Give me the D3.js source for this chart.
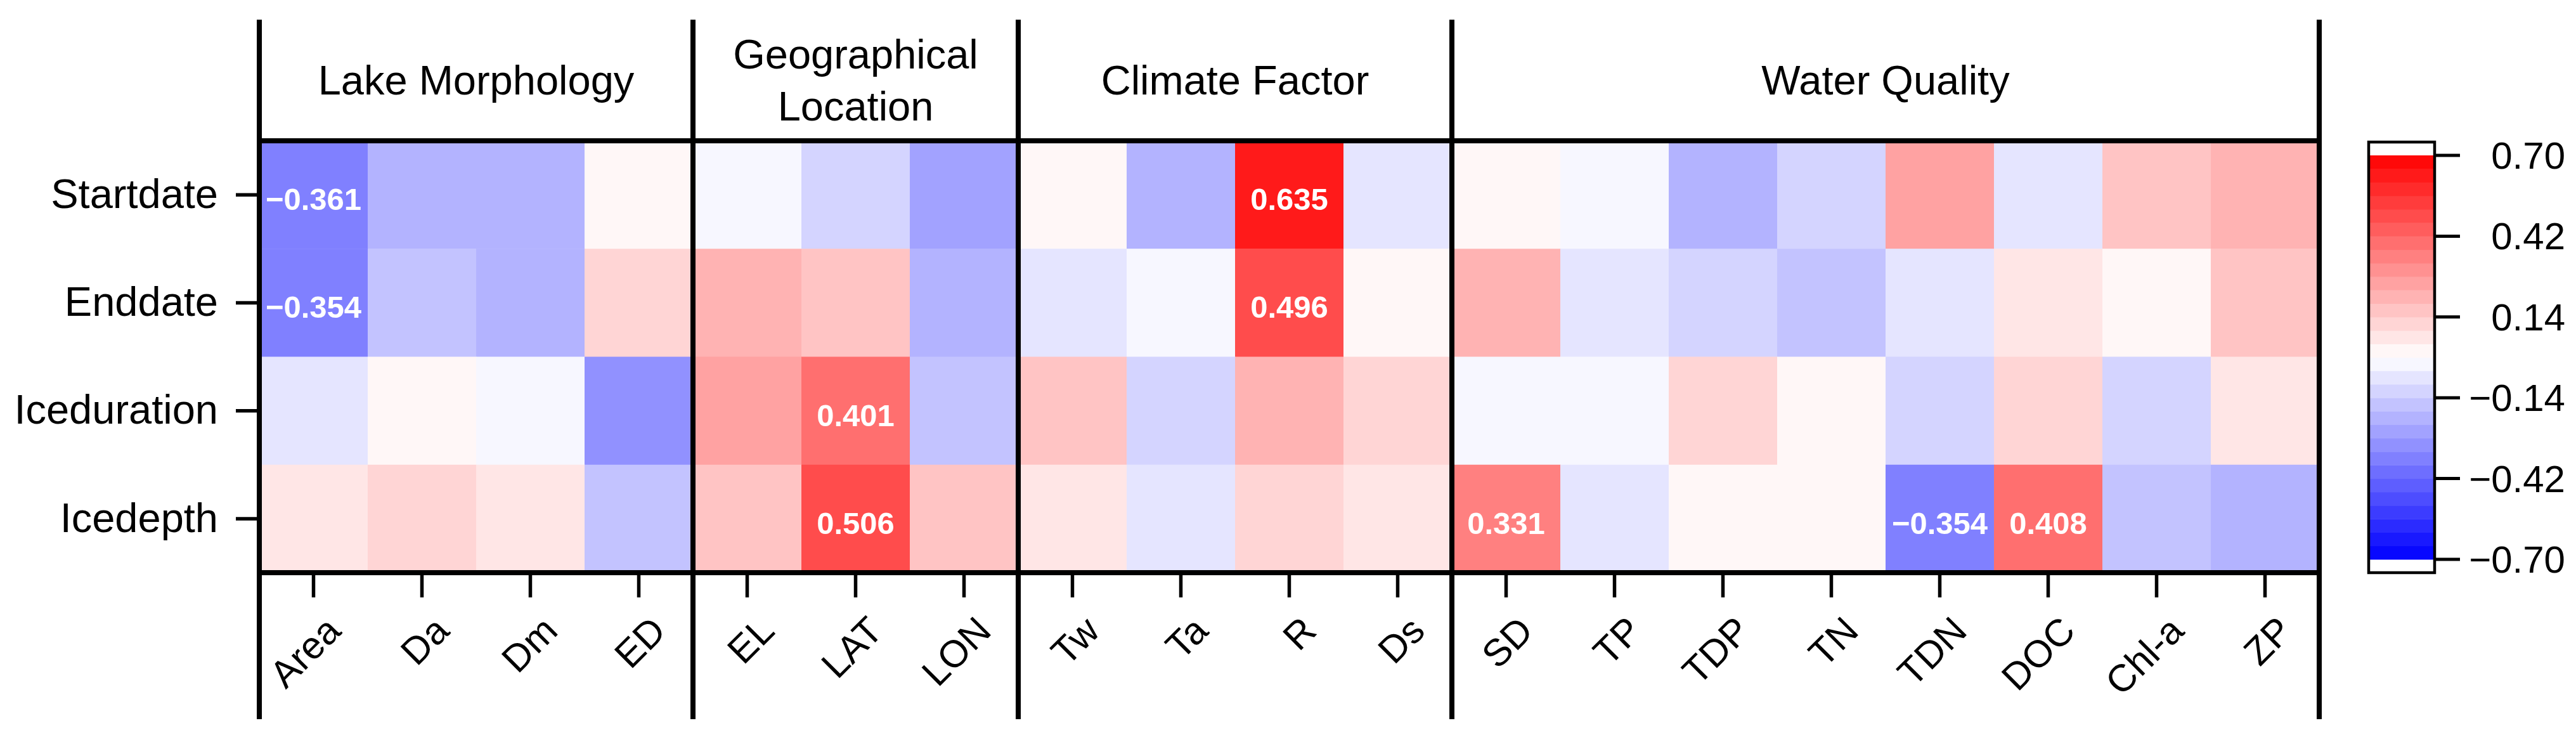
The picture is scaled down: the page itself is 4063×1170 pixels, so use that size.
<!DOCTYPE html>
<meta charset="utf-8">
<html>

<head>
    <!-- Load d3.js -->
    <script src="https://d3js.org/d3.v7.min.js"></script>

    <style>
        body {
            margin: 0;
            background-color: #ffffff;
        }

        text {
            font-family: "Liberation Sans", Arial, sans-serif;
            fill: #000000;
        }
    </style>
</head>

<body>
    <div id="heatmap"></div>

    <script>
        // row (response) names
        var rows = ["Startdate", "Enddate", "Iceduration", "Icedepth"];

        // column groups
        var lakeMorphology = ["Area", "Da", "Dm", "ED"];
        var geoLocation = ["EL", "LAT", "LON"];
        var climateFactor = ["Tw", "Ta", "R", "Ds"];
        var waterQuality = ["SD", "TP", "TDP", "TN", "TDN", "DOC", "Chl-a", "ZP"];
        var groupTitles = [["Lake Morphology"], ["Geographical", "Location"], ["Climate Factor"], ["Water Quality"]];

        // correlation values, one array per row, in column order
        var startdate = [-0.361, -0.21, -0.21, 0.02, -0.02, -0.11, -0.26, 0.02, -0.21, 0.635, -0.07, 0.02, -0.02, -0.21, -0.11, 0.25, -0.07, 0.16, 0.21];
        var enddate = [-0.354, -0.16, -0.21, 0.12, 0.21, 0.16, -0.21, -0.07, -0.02, 0.496, 0.02, 0.21, -0.07, -0.11, -0.16, -0.07, 0.07, 0.02, 0.16];
        var iceduration = [-0.07, 0.02, -0.02, -0.30, 0.25, 0.401, -0.16, 0.16, -0.11, 0.21, 0.12, -0.02, -0.02, 0.12, 0.02, -0.11, 0.12, -0.11, 0.07];
        var icedepth = [0.07, 0.12, 0.07, -0.16, 0.16, 0.506, 0.17, 0.07, -0.07, 0.12, 0.07, 0.331, -0.07, 0.02, 0.02, -0.354, 0.408, -0.16, -0.21];

        // colour bar ticks
        var legendTicks = [0.70, 0.42, 0.14, -0.14, -0.42, -0.70];

        var groups = [lakeMorphology, geoLocation, climateFactor, waterQuality];
        var columns = [].concat(lakeMorphology, geoLocation, climateFactor, waterQuality);
        var rowValues = [startdate, enddate, iceduration, icedepth];

        var cells = [];
        rows.forEach(function (r, i) {
            columns.forEach(function (c, j) {
                cells.push({ row: r, col: c, value: rowValues[i][j] });
            });
        });

        // page size and plot area
        var W = 4063, H = 1170;
        var plot = { left: 409, right: 3658, top: 222, bottom: 903 };
        var lineTop = 31, lineBottom = 1134;

        var svg = d3.select("#heatmap")
            .append("svg")
            .attr("width", W)
            .attr("height", H);

        var x = d3.scaleBand().domain(columns).range([plot.left, plot.right]);
        var y = d3.scaleBand().domain(rows).range([plot.top, plot.bottom]);

        // stepped blue-white-red colour scale (30 bands)
        var nBands = 30, vmin = -0.7, vmax = 0.7;
        var step = (vmax - vmin) / nBands;
        var ramp = d3.scaleLinear().domain([vmin, 0, vmax]).range(["#0000ff", "#ffffff", "#ff0000"]);
        var bandColors = d3.range(nBands).map(function (i) { return ramp(vmin + (i + 0.5) * step); });
        var color = d3.scaleQuantize().domain([vmin, vmax]).range(bandColors);

        // cells
        svg.append("g")
            .selectAll("rect")
            .data(cells)
            .enter()
            .append("rect")
            .attr("x", function (d) { return x(d.col); })
            .attr("y", function (d) { return y(d.row); })
            .attr("width", x.bandwidth() + 0.5)
            .attr("height", y.bandwidth() + 0.5)
            .style("fill", function (d) { return color(d.value); });

        // significant values
        var fmt3 = d3.format(".3f");
        svg.append("g")
            .selectAll("text")
            .data(cells.filter(function (d) { return Math.abs(d.value) >= 0.33; }))
            .enter()
            .append("text")
            .attr("x", function (d) { return x(d.col) + x.bandwidth() / 2; })
            .attr("y", function (d) { return y(d.row) + y.bandwidth() / 2 + 24; })
            .attr("text-anchor", "middle")
            .style("font-size", "49px")
            .style("font-weight", "bold")
            .style("fill", "#ffffff")
            .text(function (d) { return fmt3(d.value); });

        // group titles
        var groupStart = [], k = 0;
        groups.forEach(function (g) { groupStart.push(columns[k]); k += g.length; });

        groups.forEach(function (g, i) {
            var cx = x(g[0]) + x.bandwidth() * g.length / 2;
            var lines = groupTitles[i];
            var base = lines.length === 1 ? [149] : [108, 190];
            lines.forEach(function (t, j) {
                svg.append("text")
                    .attr("x", cx)
                    .attr("y", base[j])
                    .attr("text-anchor", "middle")
                    .style("font-size", "65px")
                    .text(t);
            });
        });

        // frame lines
        var frame = svg.append("g").style("stroke", "#000").style("stroke-width", 8);
        frame.append("line").attr("x1", plot.left).attr("x2", plot.right).attr("y1", plot.top).attr("y2", plot.top);
        frame.append("line").attr("x1", plot.left).attr("x2", plot.right).attr("y1", plot.bottom).attr("y2", plot.bottom);
        groupStart.concat([null]).forEach(function (c) {
            var xx = c === null ? plot.right : x(c);
            frame.append("line").attr("x1", xx).attr("x2", xx).attr("y1", lineTop).attr("y2", lineBottom);
        });

        // X axis
        var xAxis = svg.append("g")
            .attr("transform", "translate(0," + (plot.bottom + 3) + ")")
            .call(d3.axisBottom(x).tickSize(36).tickSizeOuter(0));
        xAxis.select(".domain").remove();
        xAxis.selectAll(".tick line").style("stroke", "#000").style("stroke-width", 5.5);
        xAxis.selectAll(".tick text")
            .attr("x", 0).attr("y", 0).attr("dy", null)
            .attr("text-anchor", "end")
            .attr("transform", "translate(46,92) rotate(-45)")
            .style("font-size", "60px")
            .style("font-family", "'Liberation Sans', Arial, sans-serif")
            .style("fill", "#000");

        // Y axis
        var yAxis = svg.append("g")
            .attr("transform", "translate(" + (plot.left - 3) + ",0)")
            .call(d3.axisLeft(y).tickSize(34).tickPadding(28).tickSizeOuter(0));
        yAxis.select(".domain").remove();
        yAxis.selectAll(".tick line").style("stroke", "#000").style("stroke-width", 5.5);
        yAxis.selectAll(".tick text")
            .style("font-size", "65px")
            .style("font-family", "'Liberation Sans', Arial, sans-serif")
            .style("fill", "#000");

        // colour bar
        var lx0 = 3736, lx1 = 3840;
        var yL = d3.scaleLinear().domain([vmin, vmax]).range([882, 245]);

        svg.append("g")
            .selectAll("rect")
            .data(d3.range(nBands))
            .enter()
            .append("rect")
            .attr("x", lx0)
            .attr("width", lx1 - lx0)
            .attr("y", function (i) { return yL(vmin + (i + 1) * step); })
            .attr("height", function (i) { return yL(vmin + i * step) - yL(vmin + (i + 1) * step) + 0.5; })
            .style("fill", function (i) { return bandColors[i]; });

        svg.append("rect")
            .attr("x", lx0).attr("y", plot.top + 2)
            .attr("width", lx1 - lx0).attr("height", plot.bottom - plot.top - 2)
            .style("fill", "none").style("stroke", "#000").style("stroke-width", 4.5);

        var fmt2 = d3.format(".2f");
        var lAxis = svg.append("g").selectAll("g").data(legendTicks).enter().append("g");
        lAxis.append("line")
            .attr("x1", lx1).attr("x2", lx1 + 40)
            .attr("y1", function (d) { return yL(d); })
            .attr("y2", function (d) { return yL(d); })
            .style("stroke", "#000").style("stroke-width", 5);
        lAxis.append("text")
            .attr("x", 4046)
            .attr("y", function (d) { return yL(d); })
            .attr("dy", "0.35em")
            .attr("text-anchor", "end")
            .style("font-size", "60px")
            .text(function (d) { return fmt2(d); });
    </script>
</body>

</html>
